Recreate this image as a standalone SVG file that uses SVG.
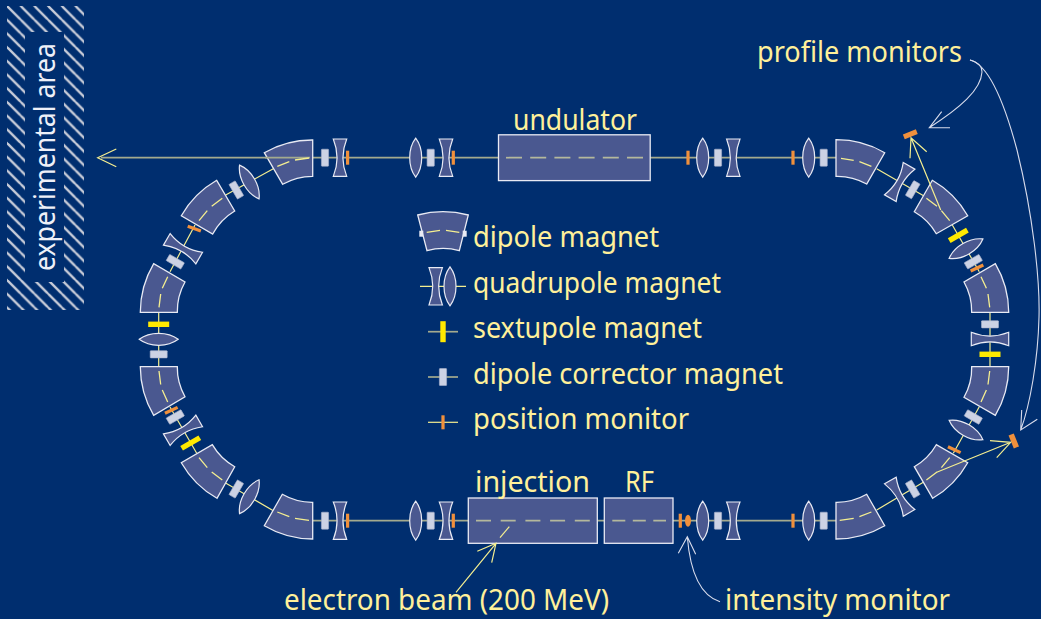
<svg xmlns="http://www.w3.org/2000/svg" width="1041" height="619" viewBox="0 0 1041 619">
<style>
.t{font-family:"Noto Sans","Open Sans","Liberation Sans",sans-serif;font-size:29px;fill:#fff09a}
.d{fill:#4a5890;stroke:#e8eaf4;stroke-width:1.3}
.q{fill:#4a5890;stroke:#e8eaf4;stroke-width:1.2}
.c{fill:#ccd2e4;stroke:#aab2cc;stroke-width:.6}
.s{fill:#ffe900}
.b{fill:#f0903c}
.y{fill:none;stroke:#f4ee90;stroke-width:1.2}
.g{fill:none;stroke:#a3aa8e;stroke-width:1.7}
.dy{fill:none;stroke:#f4ee90;stroke-width:1.3}
.dg{fill:none;stroke:#b4b89c;stroke-width:1.7}
.w{fill:none;stroke:#d8dcec;stroke-width:1.1}
</style>
<defs>
<pattern id="h" patternUnits="userSpaceOnUse" x="7" y="6" width="13.7" height="13.7"><path d="M-3 -3L17 17M-17 -3L3 17M11 -3L31 17" stroke="#c8ccd8" stroke-width="2.4" fill="none"/></pattern>
<path id="L" class="q" d="M0-19.5C8-9 8 9 0 19.5C-8 9-8-9 0-19.5Z"/>
<path id="H" class="q" d="M-6.700-18.700H6.700C2-7 2 7 6.700 18.700H-6.700C-2 7-2-7-6.700-18.700Z"/>
<rect id="C" class="c" x="-3.600" y="-8.500" width="7.200" height="17" rx=".6"/>
<rect id="S" class="s" x="-2.700" y="-10.500" width="5.400" height="21"/>
<rect id="B" class="b" x="-1.600" y="-7" width="3.200" height="14"/>
</defs>
<rect width="1041" height="619" fill="#002e6f"/>
<g id="experimental-area">
<rect x="7" y="6" width="77" height="304" fill="url(#h)"/>
<rect x="25" y="32" width="39" height="250" fill="#002e6f"/>
<text class="t" transform="translate(55 271) rotate(-90)" style="fill:#eef0f8" textLength="228" lengthAdjust="spacingAndGlyphs">experimental area</text>
</g>
<g id="connectors">
<path class="g" d="M101 157.700H498.500M650 157.700H836M836 520.700H673M604 520.700H597.500M468.500 520.700H312.700"/>
<path class="y" d="M116.300 149L97.700 157.700L116.300 166.700M273.300 168.700L225.700 195M195 225L170 271.700M158.700 312.300V366.700M170 407L196.700 453.300M226 483.300L273.300 510.700M876.700 168.700L924 196M952.300 225L979.300 271.700M990 312.300V366.700M979.300 406.700L953.300 453.300M876.700 510L923.300 482.300"/>
</g>
<g id="dipoles">
<path class="d" d="M264.300 152.700A96 96 0 0 1 312.700 140V176.300A59.500 59.500 0 0 0 282.700 184.300Z"/>
<path class="d" d="M181.300 215.700A96 96 0 0 1 216.700 180.300L234.700 211A59.500 59.500 0 0 0 212.700 234Z"/>
<path class="d" d="M140.300 312.300A96 96 0 0 1 153.700 263.700L185 282A59.500 59.500 0 0 0 177.300 312.300Z"/>
<path class="d" d="M153.700 415.300A96 96 0 0 1 140.300 366.700H177.300A59.500 59.500 0 0 0 185 396.700Z"/>
<path class="d" d="M217 498.300A96 96 0 0 1 181.300 462.700L212.300 444.700A59.500 59.500 0 0 0 234.700 466.700Z"/>
<path class="d" d="M312.700 539A96 96 0 0 1 264.300 525.700L282.300 494.300A59.500 59.500 0 0 0 312.700 502.300Z"/>
<path class="d" d="M836 139.700A96 96 0 0 1 884.700 152.700L866.700 184A59.500 59.500 0 0 0 836 176.300Z"/>
<path class="d" d="M932.300 180.300A96 96 0 0 1 967.700 215.700L936.300 233.700A59.500 59.500 0 0 0 914.300 211.700Z"/>
<path class="d" d="M995.300 263.700A96 96 0 0 1 1008.700 312.300H971.700A59.500 59.500 0 0 0 964 282Z"/>
<path class="d" d="M1008.700 366.700A96 96 0 0 1 995.300 415.300L964 397.300A59.500 59.500 0 0 0 971.700 366.700Z"/>
<path class="d" d="M967.700 462.700A96 96 0 0 1 932.700 498.300L914.300 466.700A59.500 59.500 0 0 0 936.300 444.700Z"/>
<path class="d" d="M884.700 525.700A96 96 0 0 1 836 539V502.300A59.500 59.500 0 0 0 866.700 494.300Z"/>
<path class="g" d="M265 157.700H310"/>
<path class="dy" d="M277.300 166.300L289.300 161.700M295 160L309 158M199 220.700L207.300 210.700M211.700 206.300L222.300 198.300M159 307.300L160.700 294M162.300 288.300L167.700 276.700"/>
<path class="dy" d="M159 371L160.700 384.500M162.300 390L167.700 402M199 457.700L207.300 467.700M211.700 472L222.300 480M277.300 512L289.300 516.700M295 518.400L309 520.400"/>
<path class="dy" d="M841 158.400L853.700 160.300M859.400 161.700L871.400 166.300M926.400 198.300L937 206.300M941.400 210.700L949.700 220.700M981 276.700L986.400 288.300M988 294L989.700 307.300"/>
<path class="dy" d="M989.700 371L988 384.500M986.400 390L981 402M949.700 457.700L941.400 467.700M937 472L926.400 480M871.400 512L859.400 516.700M853.700 518.400L839.700 520.400"/>
</g>
<g id="straights">
<rect class="d" x="498.500" y="134.800" width="151.700" height="45.800"/>
<rect class="d" x="468.300" y="498" width="129" height="45.300"/>
<rect class="d" x="604.300" y="498" width="68.700" height="45.300"/>
<path class="dg" d="M506 157.700H643" stroke-dasharray="16 8.200"/>
<path class="dg" d="M476 520.700H591" stroke-dasharray="15 9.700"/>
<path class="dg" d="M612.300 520.700H666" stroke-dasharray="13 7.500"/>
</g>
<g id="magnets">
<use href="#C" x="325" y="157.700"/><use href="#H" x="340" y="157.700"/><use href="#B" x="347.600" y="157.700"/>
<use href="#L" x="415.700" y="157.700"/><use href="#C" x="430.700" y="157.700"/><use href="#H" x="446" y="157.700"/><use href="#B" x="453.300" y="157.700"/>
<use href="#C" x="325" y="520.700"/><use href="#H" x="340" y="520.700"/><use href="#B" x="347.600" y="520.700"/>
<use href="#L" x="415.700" y="520.700"/><use href="#C" x="430.700" y="520.700"/><use href="#H" x="446" y="520.700"/><use href="#B" x="453.300" y="520.700"/>
<use href="#B" x="688" y="157.700"/><use href="#L" x="702.700" y="157.700"/><use href="#C" x="718" y="157.700"/><use href="#H" x="733.300" y="157.700"/>
<use href="#B" x="793" y="157.700"/><use href="#L" x="808.700" y="157.700"/><use href="#C" x="823.700" y="157.700"/>
<use href="#B" x="680.300" y="520.700"/><ellipse class="b" cx="688" cy="520.700" rx="3" ry="6"/><use href="#L" x="702.700" y="520.700"/><use href="#C" x="718" y="520.700"/><use href="#H" x="733.300" y="520.700"/>
<use href="#B" x="793" y="520.700"/><use href="#L" x="808.700" y="520.700"/><use href="#C" x="823.700" y="520.700"/>
<use href="#L" transform="translate(249.300 182) rotate(-30)"/><use href="#C" transform="translate(236.300 190) rotate(-30)"/>
<use href="#H" transform="translate(183 248.700) rotate(-60)"/><use href="#C" transform="translate(175.300 261.700) rotate(-60)"/><use href="#B" transform="translate(194.300 228.700) rotate(-70)"/>
<use href="#S" transform="translate(158.700 324.300) rotate(90)"/><use href="#L" transform="translate(158.700 339.300) rotate(90)"/><use href="#C" transform="translate(158.700 354.300) rotate(90)"/>
<use href="#B" transform="translate(171.300 410.300) rotate(65)"/><use href="#C" transform="translate(175.300 417) rotate(60)"/><use href="#H" transform="translate(183 430.300) rotate(60)"/><use href="#S" transform="translate(190.700 443) rotate(60)"/>
<use href="#C" transform="translate(236.300 489) rotate(30)"/><use href="#L" transform="translate(249.300 496.700) rotate(30)"/>
<use href="#H" transform="translate(899.700 182) rotate(30)"/><use href="#C" transform="translate(912.700 189.700) rotate(30)"/>
<use href="#S" transform="translate(958.300 235.300) rotate(60)"/><use href="#L" transform="translate(966 248.700) rotate(60)"/><use href="#C" transform="translate(973.300 261.700) rotate(60)"/><use href="#B" transform="translate(977 268) rotate(65)"/>
<use href="#C" transform="translate(990 324.300) rotate(90)"/><use href="#H" transform="translate(990 339) rotate(90)"/><use href="#S" transform="translate(990 354.300) rotate(90)"/>
<use href="#C" transform="translate(973.300 417) rotate(-60)"/><use href="#L" transform="translate(966 430) rotate(-60)"/><use href="#B" transform="translate(954.300 449.700) rotate(-65)"/>
<use href="#H" transform="translate(899.700 496.700) rotate(-30)"/><use href="#C" transform="translate(912.700 489) rotate(-30)"/>
</g>
<g id="profile-monitor-top">
<rect class="b" x="903.300" y="131.800" width="14" height="5" transform="rotate(-22 910.300 134.300)"/>
<path class="y" d="M940.700 210L911 137.700M910 158.300L911 137.700L926.700 151.700"/>
</g>
<g id="profile-monitor-bottom">
<rect class="b" x="1011" y="434" width="5.600" height="14" transform="rotate(-22 1013.700 441)"/>
<path class="y" d="M936.700 472.300L1010.700 442.300M990 440.700L1010.700 442.300L996.700 457.700"/>
</g>
<g id="annotations">
<path class="y" d="M456 592.300L496 543.300M477.300 551.300L496 543.300L491.700 562.700"/>
<path class="y" d="M500 537.700L509.300 526.700"/>
<path class="w" d="M720 601.700C705 597 691 582 687.300 536.700M678.300 553.300L687.300 536.700L695.700 554.300"/>
<path class="w" d="M970 60C978 62 982 66 982 72C981 90 960 108 929.300 127.700M941.700 111.700L929.300 127.700H950"/>
<path class="w" d="M970 60C990 65 1005 105 1017 150C1033 215 1040 280 1039 317C1038 360 1030 405 1020.700 430M1021.700 410L1020.700 430L1037.300 419.300"/>
</g>
<g id="legend">
<path class="d" d="M417.700 215A96 96 0 0 1 468.300 215L459.300 250.700A59.500 59.500 0 0 0 427 250.700Z"/>
<rect x="419.300" y="230.700" width="4" height="6" fill="#e8eaf4"/><rect x="462.700" y="230.700" width="4" height="6" fill="#e8eaf4"/>
<path class="dy" d="M426.700 232.300L440 230.300M446 230.300L459.300 232.300"/>
<path class="y" d="M420 286.300H466"/>
<use href="#H" x="435.700" y="286.300"/><use href="#L" x="450" y="286.300"/>
<path class="g" d="M428 331.700H458"/><use href="#S" x="443" y="331.700"/>
<path class="g" d="M428 377H458"/><use href="#C" x="443" y="377"/>
<path class="y" d="M428 422.300H458"/><use href="#B" x="443" y="422.300"/>
<text class="t" x="473" y="247" textLength="186" lengthAdjust="spacingAndGlyphs">dipole magnet</text>
<text class="t" x="473" y="293" textLength="248" lengthAdjust="spacingAndGlyphs">quadrupole magnet</text>
<text class="t" x="473" y="338.300" textLength="229" lengthAdjust="spacingAndGlyphs">sextupole magnet</text>
<text class="t" x="473" y="384" textLength="310" lengthAdjust="spacingAndGlyphs">dipole corrector magnet</text>
<text class="t" x="473" y="429.300" textLength="216" lengthAdjust="spacingAndGlyphs">position monitor</text>
</g>
<g id="labels">
<text class="t" x="757" y="62" textLength="205" lengthAdjust="spacingAndGlyphs">profile monitors</text>
<text class="t" x="513" y="130" textLength="124" lengthAdjust="spacingAndGlyphs">undulator</text>
<text class="t" x="475" y="492.300" textLength="115" lengthAdjust="spacingAndGlyphs">injection</text>
<text class="t" x="625" y="492.300" textLength="29" lengthAdjust="spacingAndGlyphs">RF</text>
<text class="t" x="284" y="610" textLength="325" lengthAdjust="spacingAndGlyphs">electron beam (200 MeV)</text>
<text class="t" x="725" y="609.500" textLength="225" lengthAdjust="spacingAndGlyphs">intensity monitor</text>
</g>
</svg>
